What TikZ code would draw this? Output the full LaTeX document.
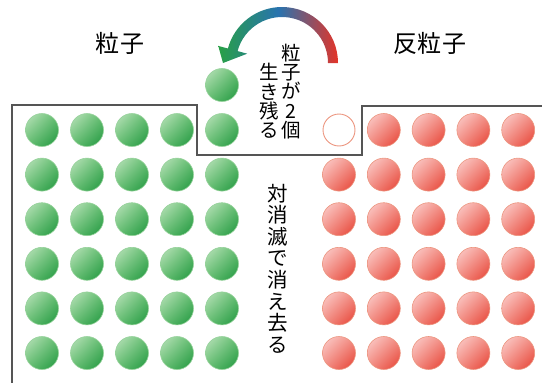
\documentclass[tikz,border=0pt]{standalone}
\usepackage{fontspec}
\newfontfamily\jp{Noto Sans CJK JP}
\usetikzlibrary{calc,shadings}
\definecolor{gLight}{RGB}{190,228,190}
\definecolor{gMid}{RGB}{100,190,112}
\definecolor{gDark}{RGB}{30,150,62}
\definecolor{gEdge}{RGB}{150,210,155}
\definecolor{rLight}{RGB}{252,210,208}
\definecolor{rMid}{RGB}{242,140,130}
\definecolor{rDark}{RGB}{230,62,48}
\definecolor{rEdge}{RGB}{236,150,128}
\definecolor{aGreen}{RGB}{40,160,70}
\definecolor{aBlue}{RGB}{40,115,175}
\definecolor{aRed}{RGB}{228,52,40}
\definecolor{boxGray}{RGB}{85,85,85}
\tikzset{
  gball/.style={circle, minimum size=33pt, inner sep=0pt, draw=gEdge, line width=0.6pt,
    upper left=gLight, lower right=gDark, upper right=gMid, lower left=gMid},
  rball/.style={circle, minimum size=33pt, inner sep=0pt, draw=rEdge, line width=0.6pt,
    upper left=rLight, lower right=rDark, upper right=rMid, lower left=rMid},
  hole/.style={circle, minimum size=32pt, inner sep=0pt, draw=rEdge, line width=0.9pt, fill=white},
  boxline/.style={draw=boxGray, line width=1.4pt},
  title/.style={font=\jp\fontsize{24}{24}\selectfont, inner sep=0pt},
  vtext/.style={align=center, inner sep=0pt},
}
\begin{document}
\begin{tikzpicture}[x=1pt,y=-1pt]
\useasboundingbox (0,0) rectangle (542,383);
% box outline
\draw[boxline] (12,383) -- (12,105) -- (197,105) -- (197,155) -- (362,155) -- (362,106) -- (542,106);
% green particles
\foreach \r in {0,...,5}
  \foreach \c in {0,...,4}
    \node[gball] (g\r\c) at ({42+45*\c},{130+44.6*\r}) {};
\node[gball] (gx) at (222,85) {};
% red antiparticles
\foreach \r in {0,...,5}
  \foreach \c in {1,...,4}
    \node[rball] (r\r\c) at ({339+44.8*\c},{130+44.6*\r}) {};
\foreach \r in {1,...,5}
  \node[rball] (r\r0) at (339,{130+44.6*\r}) {};
\node[hole] (r00) at (339,130) {};
% curved arrow
\coordinate (C) at (282,63);
\shade[left color=aGreen, right color=aRed, middle color=aBlue]
  ($(C)+(0:56)$) arc[start angle=0, end angle=-165, radius=56]
  -- ($(C)+(-165:66)$) -- (223,63) -- ($(C)+(-165:36)$)
  -- ($(C)+(-165:46)$) arc[start angle=-165, end angle=0, radius=46] -- cycle;
% titles
\node[title] (tp) at (120,43) {粒\kern1pt 子};
\node[title] (tap) at (430,43) {反\kern1pt 粒\kern1pt 子};
% vertical texts
\node[vtext, font=\jp\fontsize{19.5}{19.4}\selectfont] (v1) at (291,91.5) {粒\\子\\が\\2\\個};
\node[vtext, font=\jp\fontsize{19.5}{19.4}\selectfont] (v2) at (269,101) {生\\き\\残\\る};
\node[vtext, font=\jp\fontsize{20.5}{21.6}\selectfont] (v3) at (278,268.5) {対\\消\\滅\\で\\消\\え\\去\\る};
\end{tikzpicture}
\end{document}
